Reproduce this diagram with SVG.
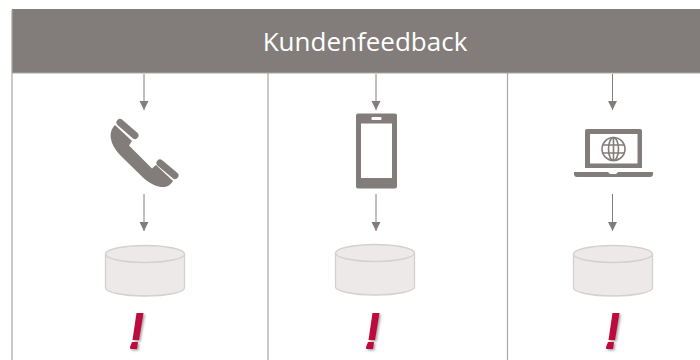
<svg xmlns="http://www.w3.org/2000/svg" width="700" height="360" viewBox="0 0 700 360">
<defs>
<style>
.grid{stroke:#a9a7a5;stroke-width:1.2;fill:none}
.conn{stroke:#827d7b;stroke-width:1;fill:none;marker-end:url(#arr)}
.icon{fill:#827d7b}
.bar{stroke:#827d7b;stroke-width:7;stroke-linecap:round;fill:none}
.can{fill:#ece9e8;stroke:#d3d0ce;stroke-width:1.300}
.bang{fill:#be0a3c}
.bangs{fill:#8a8685;opacity:.75}
text{font-family:"Open Sans","Noto Sans",sans-serif}
</style>
<marker id="arr" markerUnits="userSpaceOnUse" markerWidth="10" markerHeight="10" refX="9" refY="4.500" orient="auto"><path d="M0,0L9,4.500L0,9Z" fill="#827d7b"/></marker>
<filter id="blur" x="-50%" y="-50%" width="200%" height="200%"><feGaussianBlur stdDeviation="0.8"/></filter>
<g id="canShape"><path class="can" d="M0.500,9V43C0.500,47 17,51 40,51C63,51 79.500,47 79.500,43V9"/><ellipse class="can" cx="40" cy="9" rx="39.500" ry="8.500"/></g>
<g id="bangShape"><path d="M6.500,0H13.500L9,27H2.500ZM2,29H8L7,36H1Q-0.500,36 0,34Z"/></g>
</defs>
<g id="header"><rect x="12" y="9" width="688" height="64" fill="#827d7b"/><text x="365" y="51" font-size="26" fill="#fff" text-anchor="middle">Kundenfeedback</text></g>
<g id="grid"><path class="grid" d="M12,10V360M268,73V360M507.500,73V360M12,73H700"/></g>
<g id="connectors">
<path class="conn" d="M144,74V110"/><path class="conn" d="M144,194V231"/>
<path class="conn" d="M376,74V110"/><path class="conn" d="M376,194V231"/>
<path class="conn" d="M612.500,74V110"/><path class="conn" d="M612.500,194V231"/>
</g>
<g id="phone-icon"><path class="icon" d="M115,125L132,141L129,145.500L152,168.500L156,165L173,181C170,186 166,187.500 161,187C154,186 148,182 143,177.500L122,157C116,151 112,145 111,139C110,134 111,129 115,125Z"/><path class="bar" d="M120,122.500L135,135.500"/><path class="bar" d="M160,163L175,175.500"/></g>
<g id="mobile-icon"><path class="icon" fill-rule="evenodd" d="M358,113.500H395Q397,113.500 397,115.500V186.500Q397,188.500 395,188.500H358Q356,188.500 356,186.500V115.500Q356,113.500 358,113.500ZM361,123.500V178H392V123.500ZM372,117H381Q382.500,118.500 381,120H372Q370.500,118.500 372,117Z"/></g>
<g id="laptop-icon"><path class="icon" fill-rule="evenodd" d="M587,129H640Q642,129 642,131V168H585V131Q585,129 587,129ZM590,134V163.500H637.500V134Z"/><path class="icon" d="M574,172H608L610,174H616L618,172H653V174Q653,177 650,177H577Q574,177 574,174Z"/><g fill="none" stroke="#827d7b" stroke-width="1.600"><circle cx="613.500" cy="149" r="11.500"/><ellipse cx="613.500" cy="149" rx="5" ry="11.500"/><path d="M613.500,138V160M603,145H624M603,153H624"/></g></g>
<g id="store-1"><use href="#canShape" x="105" y="245"/></g>
<g id="store-2"><use href="#canShape" x="335" y="244"/></g>
<g id="store-3"><use href="#canShape" x="573" y="245"/></g>
<g id="alert-1"><use href="#bangShape" x="130" y="313" class="bangs" filter="url(#blur)" transform="translate(1.500,1.500)"/><use href="#bangShape" x="130" y="313" class="bang"/></g>
<g id="alert-2"><use href="#bangShape" x="366" y="313" class="bangs" filter="url(#blur)" transform="translate(1.500,1.500)"/><use href="#bangShape" x="366" y="313" class="bang"/></g>
<g id="alert-3"><use href="#bangShape" x="606" y="313" class="bangs" filter="url(#blur)" transform="translate(1.500,1.500)"/><use href="#bangShape" x="606" y="313" class="bang"/></g>
</svg>
